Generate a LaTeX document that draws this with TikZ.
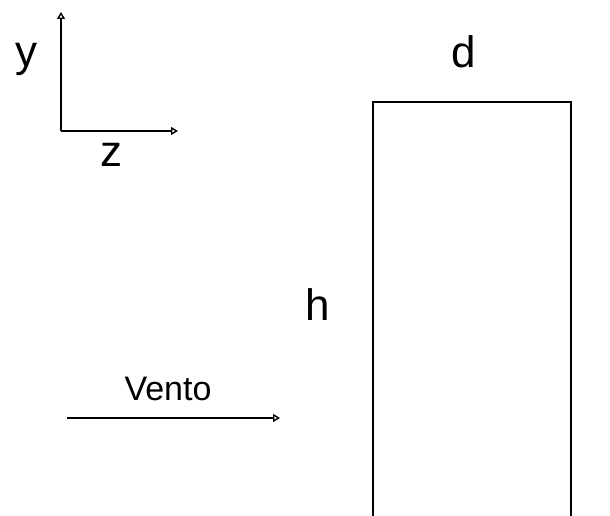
\documentclass[tikz,border=0pt]{standalone}
\usepackage{fontspec}
\setmainfont{Liberation Sans}
\usepackage{tikz}
\usetikzlibrary{arrows.meta,positioning}

\begin{document}
\begin{tikzpicture}[x=1pt, y=-1pt,
  lbl/.style={inner sep=0pt, font=\fontsize{44}{46}\selectfont},
  wlbl/.style={inner sep=0pt, font=\fontsize{34}{36}\selectfont},
  edge/.style={line width=1.5pt, line cap=rect},
  arr/.style={-{Triangle[open, length=7pt, width=8pt]}, line width=1.4pt},
]
  \useasboundingbox (0,0) rectangle (610,516);

  % axes
  \coordinate (o)  at (61,131);
  \coordinate (yt) at (61,12);
  \coordinate (zt) at (178,131);
  \draw[arr] (o) -- (yt);
  \draw[arr] (o) -- (zt);
  \node[lbl] (ylab) at (27,59) {y};
  \node[lbl] (zlab) at (111,155) {z};

  % section
  \coordinate (bl) at (373,517);
  \coordinate (tl) at (373,102);
  \coordinate (tr) at (571,102);
  \coordinate (br) at (571,517);
  \draw[edge] (bl) -- (tl) -- (tr) -- (br);
  \node[lbl] (dlab) at (464,52) {d};
  \node[lbl] (hlab) at (318,305) {h};

  % wind
  \coordinate (w0) at (67,418);
  \coordinate (w1) at (280,418);
  \draw[arr] (w0) -- (w1);
  \node[wlbl] (vlab) at (168,389) {Vento};
\end{tikzpicture}
\end{document}
